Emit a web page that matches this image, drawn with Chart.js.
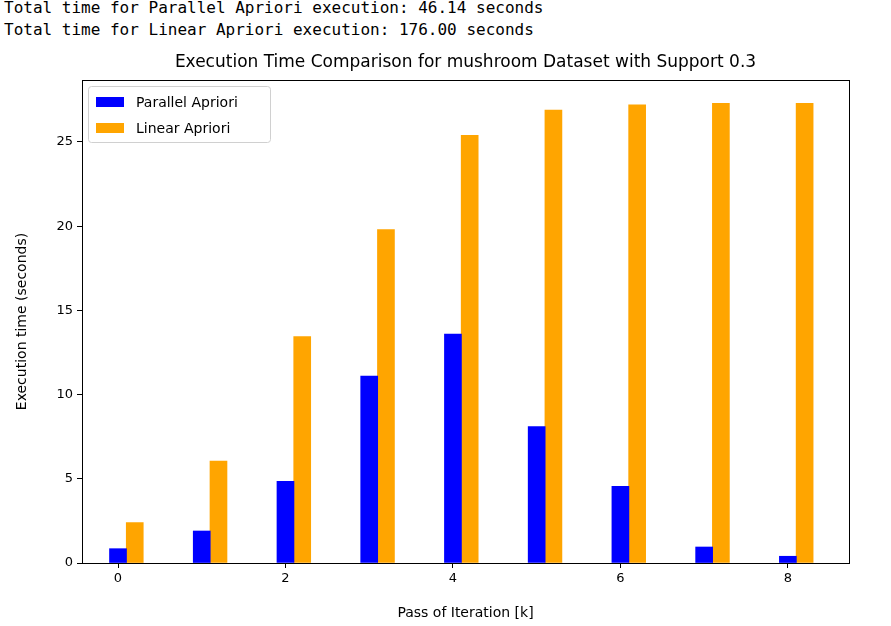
<!DOCTYPE html>
<html><head><meta charset="utf-8">
<script src="https://cdn.jsdelivr.net/npm/chart.js@4"></script>
<style>
body{margin:0;background:#fff;}
#hdr{position:absolute;left:4px;top:-3px;font:16px "DejaVu Sans Mono",monospace;line-height:22px;color:#000;white-space:pre;}
#wrap{position:absolute;left:0;top:0;width:891px;height:626px;}
</style></head><body>
<div id="hdr">Total time for Parallel Apriori execution: 46.14 seconds
Total time for Linear Apriori execution: 176.00 seconds</div>
<div id="wrap"><canvas id="chart"></canvas></div>
<script>
const passes = [0, 1, 2, 3, 4, 5, 6, 7, 8]
const parallelTimes = [0.85, 1.9, 4.85, 11.1, 13.6, 8.1, 4.55, 0.95, 0.4]
const linearTimes = [2.4, 6.05, 13.45, 19.8, 25.4, 26.9, 27.2, 27.3, 27.3]
const xTicks = [0, 2, 4, 6, 8]
const seriesNames = ['Parallel Apriori', 'Linear Apriori']
const colors = ['#0000ff', '#ffa500']
const font = 'DejaVu Sans'

const frame = {
  id: 'frame',
  afterDraw(c) {
    const ctx = c.ctx, a = c.chartArea
    ctx.save()
    ctx.strokeStyle = '#000'; ctx.lineWidth = 1
    ctx.strokeRect(a.left + 0.5, a.top + 0.5, a.right - a.left, a.bottom - a.top)
    // title
    ctx.fillStyle = '#000'; ctx.font = '17px ' + font
    ctx.textAlign = 'center'; ctx.textBaseline = 'middle'
    ctx.fillText('Execution Time Comparison for mushroom Dataset with Support 0.3', (a.left + a.right) / 2, 63)
    // legend
    const lx = a.left + 6, ly = a.top + 6
    ctx.strokeStyle = '#d0d0d0'
    ctx.fillStyle = 'rgba(255,255,255,0.8)'
    ctx.beginPath(); ctx.roundRect(lx + 0.5, ly + 0.5, 182, 56, 3); ctx.fill(); ctx.stroke()
    ctx.font = '14px ' + font; ctx.textAlign = 'left'
    seriesNames.forEach((n, i) => {
      const y = ly + 16 + i * 26
      ctx.fillStyle = colors[i]
      ctx.fillRect(lx + 8, y - 5, 28, 10)
      ctx.fillStyle = '#000'
      ctx.fillText(n, lx + 48, y + 1)
    })
    ctx.restore()
  }
}

new Chart(document.getElementById('chart'), {
  type: 'bar',
  data: {
    datasets: [
      { label: seriesNames[0], data: passes.map((p, i) => ({ x: p, y: parallelTimes[i] })), backgroundColor: colors[0] },
      { label: seriesNames[1], data: passes.map((p, i) => ({ x: p + 0.2, y: linearTimes[i] })), backgroundColor: colors[1] }
    ]
  },
  options: {
    responsive: true, maintainAspectRatio: false, animation: false,
    layout: { padding: { left: 10, top: 80, right: 42, bottom: 0 } },
    datasets: { bar: { grouped: false, barThickness: 17 } },
    plugins: { legend: { display: false }, title: { display: false }, tooltip: { enabled: false } },
    scales: {
      x: {
        type: 'linear', min: -0.43, max: 8.73, offset: false,
        afterFit(s) { s.height = 63 },
        afterBuildTicks(s) { s.ticks = xTicks.map(v => ({ value: v })) },
        grid: { display: true, offset: false, drawOnChartArea: false, tickLength: 5, color: '#000' },
        border: { display: false },
        ticks: { color: '#000', font: { family: font, size: 13 }, padding: 3 },
        title: { display: true, text: 'Pass of Iteration [k]', color: '#000', font: { family: font, size: 14 }, padding: { top: 0 } }
      },
      y: {
        min: 0, max: 28.68,
        afterFit(s) { s.width = 72 },
        afterBuildTicks(s) { s.ticks = [0, 5, 10, 15, 20, 25].map(v => ({ value: v })) },
        grid: { display: true, drawOnChartArea: false, tickLength: 5, color: '#000' },
        border: { display: false },
        ticks: { color: '#000', font: { family: font, size: 13 }, padding: 4 },
        title: { display: true, text: 'Execution time (seconds)', color: '#000', font: { family: font, size: 14 }, padding: { bottom: 4 } }
      }
    }
  },
  plugins: [frame]
})
</script></body></html>
